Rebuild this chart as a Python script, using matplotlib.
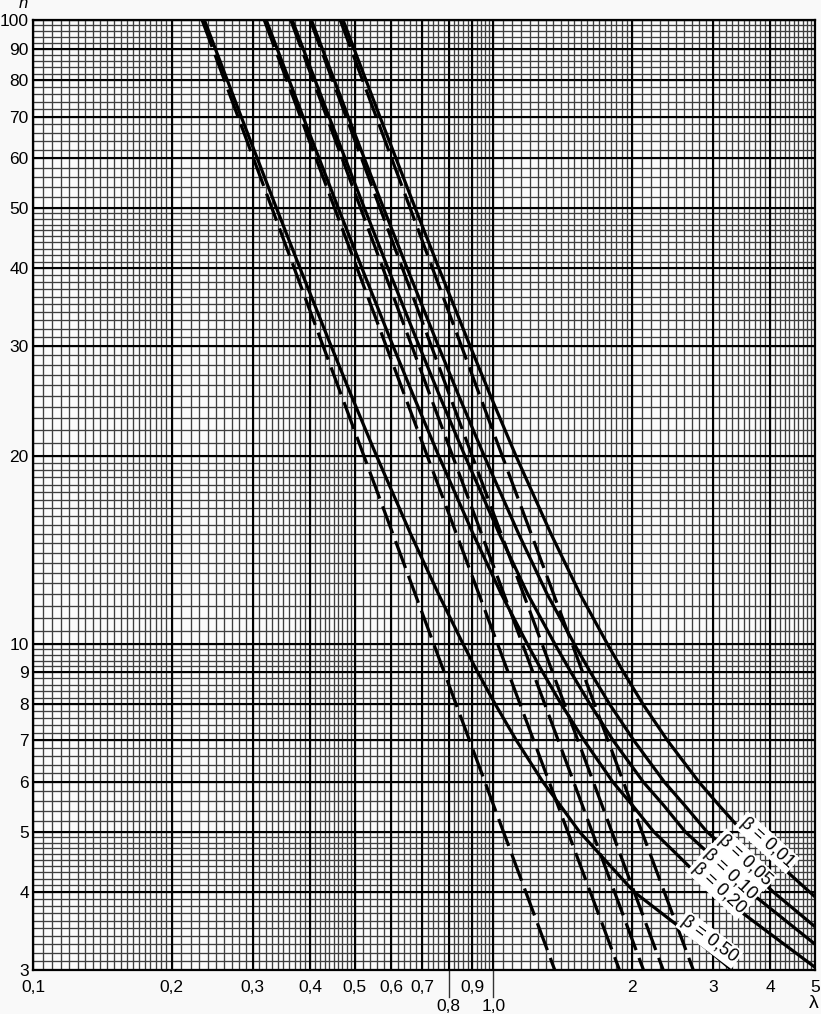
import matplotlib
matplotlib.use("Agg")
import matplotlib.pyplot as plt
import matplotlib.transforms as mtransforms
import numpy as np

# ---------------- data ----------------
betas = ["0,01", "0,05", "0,10", "0,20", "0,50"]

# solid curves: n values and lambda values
solid_n_001 = [100, 70, 50, 40, 30, 25, 20, 15, 12, 10, 9, 8, 7, 6, 5.5, 5, 4.5, 4, 3.93]
solid_l_001 = [0.4716, 0.567, 0.6763, 0.7617, 0.8907, 0.9858, 1.1203, 1.335, 1.545, 1.769, 1.92, 2.115, 2.39, 2.80, 3.10, 3.48, 4.08, 4.87, 5.0]
solid_n_005 = [100, 70, 50, 40, 30, 25, 20, 15, 12, 10, 9, 8, 7, 6, 5.5, 5, 4.5, 4, 3.52]
solid_l_005 = [0.4025, 0.4839, 0.5772, 0.650, 0.760, 0.8411, 0.9557, 1.1355, 1.31, 1.499, 1.626, 1.79, 2.02, 2.355, 2.61, 2.91, 3.42, 4.06, 5.0]
solid_n_010 = [100, 70, 50, 40, 30, 25, 20, 15, 12, 10, 9, 8, 7, 6, 5.5, 5, 4.5, 4, 3.30]
solid_l_010 = [0.3657, 0.4396, 0.5244, 0.5905, 0.6904, 0.7639, 0.8679, 1.031, 1.189, 1.36, 1.475, 1.623, 1.821, 2.12, 2.35, 2.61, 3.05, 3.61, 5.0]
solid_n_020 = [100, 70, 50, 40, 30, 25, 20, 15, 12, 10, 9, 8, 7, 6, 5.5, 5, 4.5, 4, 3.5, 3.03]
solid_l_020 = [0.3211, 0.386, 0.4603, 0.5184, 0.6059, 0.6704, 0.7614, 0.9041, 1.042, 1.185, 1.281, 1.405, 1.575, 1.82, 2.01, 2.23, 2.58, 3.03, 3.85, 5.0]
solid_n_050 = [100, 70, 50, 40, 30, 25, 20, 15, 12, 10, 9, 8, 7, 6, 5.5, 5, 4.5, 4, 3.5, 3.25, 3.0]
solid_l_050 = [0.2357, 0.2833, 0.3378, 0.3803, 0.4444, 0.4915, 0.5578, 0.6614, 0.761, 0.8593, 0.9253, 1.0101, 1.1226, 1.283, 1.40, 1.538, 1.75, 2.024, 2.56, 2.90, 3.30]

# dashed straight lines: n values and lambda values
dash_n = [100, 3]
dash_l_001 = [0.465, 2.72]
dash_l_005 = [0.400, 2.34]
dash_l_010 = [0.363, 2.12]
dash_l_020 = [0.318, 1.88]
dash_l_050 = [0.233, 1.36]

x_ticks = [0.1, 0.2, 0.3, 0.4, 0.5, 0.6, 0.7, 0.8, 0.9, 1.0, 2, 3, 4, 5]
x_labels = ["0,1", "0,2", "0,3", "0,4", "0,5", "0,6", "0,7", "0,8", "0,9", "1,0", "2", "3", "4", "5"]
x_low = ["0,8", "1,0"]          # labels printed lower, with a leader line
y_ticks = [3, 4, 5, 6, 7, 8, 9, 10, 20, 30, 40, 50, 60, 70, 80, 90, 100]
y_labels = ["3", "4", "5", "6", "7", "8", "9", "10", "20", "30", "40", "50", "60", "70", "80", "90", "100"]

# beta label placement (lambda, n, rotation)
lab_l = [3.93, 3.52, 3.27, 3.09, 2.95]
lab_n = [4.80, 4.50, 4.27, 4.06, 3.36]
lab_rot = [-42, -43, -43, -43, -37]

# ---------------- figure ----------------
plt.rcParams['font.family'] = ['Liberation Sans', 'DejaVu Sans']
fig = plt.figure(figsize=(8.21, 10.14), dpi=100)
fig.patch.set_facecolor('#f9f9f9')
ax = fig.add_axes([33/821, 44/1014, (815-33)/821, (970-20)/1014])
ax.set_facecolor('#fbfbfb')
ax.set_xscale('log')
ax.set_yscale('log')
ax.set_xlim(0.1, 5)
ax.set_ylim(3, 100)

# grid
xminor = list(np.arange(0.1, 0.2, 0.005)) + list(np.arange(0.2, 0.5, 0.01)) + \
    list(np.arange(0.5, 1.0, 0.02)) + list(np.arange(1.0, 2.0, 0.05)) + list(np.arange(2.0, 5.0001, 0.1))
yminor = list(np.arange(3, 5, 0.1)) + list(np.arange(5, 10, 0.2)) + list(np.arange(10, 20, 0.5)) + \
    list(np.arange(20, 50, 1)) + list(np.arange(50, 100.001, 2))
for v in xminor:
    ax.axvline(v, color='#3f3f3f', lw=0.95, zorder=1)
for v in yminor:
    ax.axhline(v, color='#3f3f3f', lw=0.95, zorder=1)
for v in x_ticks:
    ax.axvline(v, color='#000000', lw=1.5, zorder=1.5)
for v in y_ticks:
    ax.axhline(v, color='#000000', lw=1.5, zorder=1.5)

solids = [(solid_l_001, solid_n_001), (solid_l_005, solid_n_005), (solid_l_010, solid_n_010),
          (solid_l_020, solid_n_020), (solid_l_050, solid_n_050)]
dashes = [dash_l_001, dash_l_005, dash_l_010, dash_l_020, dash_l_050]
for (l, n) in solids:
    ax.plot(l, n, color='black', lw=2.3, solid_capstyle='butt', solid_joinstyle='round', zorder=3)
for l in dashes:
    ax.plot(l, dash_n, color='black', lw=2.3, dashes=(9, 2.6), dash_capstyle='butt', zorder=3)

for i, (b, lx, ly, r) in enumerate(zip(betas, lab_l, lab_n, lab_rot)):
    ax.text(lx, ly, "β = " + b, rotation=r, rotation_mode='anchor', ha='center', va='center',
            fontsize=13, zorder=5 + i,
            bbox=dict(boxstyle='square,pad=0.12', fc='white', ec='none'))

# ticks
ax.set_xticks(x_ticks)
ax.set_xticklabels([("" if s in x_low else s) for s in x_labels])
ax.xaxis.set_minor_locator(matplotlib.ticker.NullLocator())
ax.set_yticks(y_ticks)
ax.set_yticklabels(y_labels)
ax.yaxis.set_minor_locator(matplotlib.ticker.NullLocator())
ax.tick_params(axis='x', which='major', labelsize=12.5, length=0, pad=7)
ax.tick_params(axis='y', which='major', labelsize=12.5, length=0, pad=3)

trans = mtransforms.blended_transform_factory(ax.transData, ax.transAxes)
for v, s in zip(x_ticks, x_labels):
    if s in x_low:
        ax.plot([v, v], [0, -0.0285], transform=trans, clip_on=False, color='#333333', lw=1.0)
        ax.text(v, -0.0305, s, transform=trans, ha='center', va='top', fontsize=12.5)

for s in ax.spines.values():
    s.set_linewidth(1.6)
    s.set_color('black')

fig.text(23/821, 1 - 8/1014, "n", fontsize=12, style='italic', ha='center', va='baseline')
fig.text(814/821, 1 - 1004/1014, "λ", fontsize=14, ha='center', va='center')

fig.savefig("out.png", dpi=100, facecolor=fig.get_facecolor())
